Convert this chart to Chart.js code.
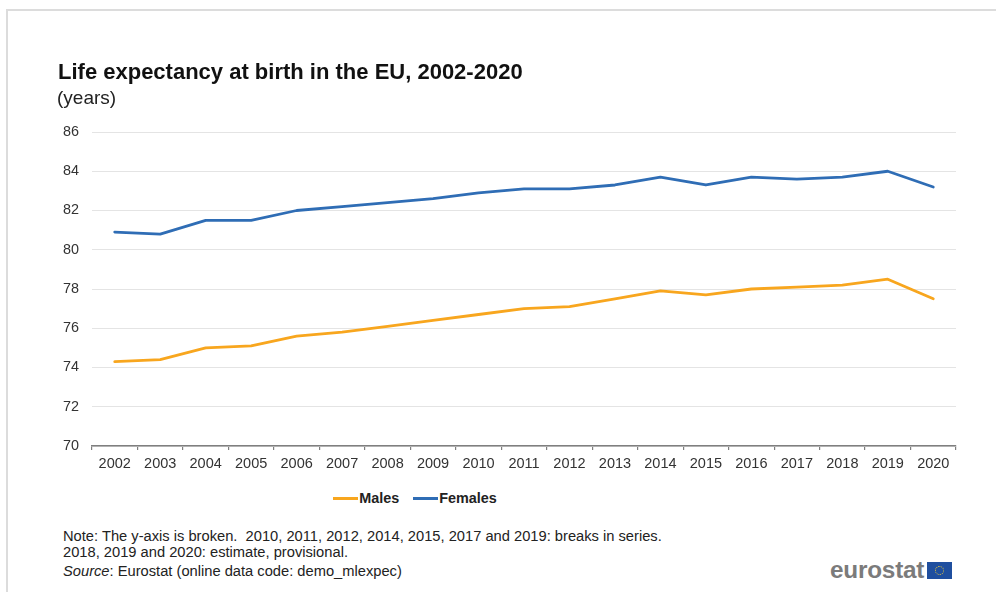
<!DOCTYPE html>
<html lang="en">
<head>
<meta charset="utf-8">
<title>Life expectancy at birth in the EU, 2002-2020</title>
<script src="https://cdn.jsdelivr.net/npm/chart.js@4.4.1/dist/chart.umd.min.js"></script>
<style>
    html, body {
        margin: 0;
        padding: 0;
        background: #ffffff;
    }
    body {
        width: 996px;
        height: 592px;
        position: relative;
        overflow: hidden;
        font-family: "Liberation Sans", Arial, sans-serif;
        color: #1a1a1a;
    }
    .frame {
        position: absolute;
        left: 6px;
        top: 9px;
        width: 1100px;
        height: 700px;
        border-top: 2px solid #dcdcdc;
        border-left: 2px solid #dcdcdc;
    }
    #lifeChart {
        position: absolute;
        left: 0;
        top: 0;
    }
    .title {
        position: absolute;
        left: 58px;
        top: 61px;
        font-size: 22px;
        line-height: 22px;
        font-weight: bold;
        color: #111;
        white-space: nowrap;
    }
    .subtitle {
        position: absolute;
        left: 57px;
        top: 88px;
        font-size: 19px;
        line-height: 19px;
        color: #222;
    }
    #legend {
        position: absolute;
        left: 0;
        width: 830px;
        top: 489px;
        display: flex;
        justify-content: center;
        font-size: 14.4px;
        font-weight: bold;
        color: #222;
    }
    #legend .item {
        display: flex;
        align-items: center;
        margin: 0 7px;
        line-height: 18px;
    }
    #legend .swatch {
        width: 25px;
        height: 3px;
        margin-right: 1px;
    }
    .notes {
        position: absolute;
        left: 63px;
        top: 528px;
        font-size: 14.7px;
        line-height: 16px;
        color: #222;
        white-space: nowrap;
    }
    .source {
        position: absolute;
        left: 63px;
        top: 563px;
        font-size: 14.7px;
        line-height: 16px;
        color: #222;
        white-space: nowrap;
    }
    .logo {
        position: absolute;
        left: 830px;
        top: 558px;
        display: flex;
        align-items: center;
    }
    .logo span {
        font-size: 24.3px;
        font-weight: bold;
        color: #7b7b7b;
        line-height: 24px;
        letter-spacing: -0.2px;
    }
    .flag {
        width: 25px;
        height: 17px;
        margin-left: 3px;
        background: #1f4f9f;
        position: relative;
    }
    .flag::after {
        content: "";
        position: absolute;
        left: 8px;
        top: 4px;
        width: 7px;
        height: 7px;
        border: 1px dotted #e8c93a;
        border-radius: 50%;
    }
</style>
</head>
<body>
<div class="frame"></div>
<canvas id="lifeChart" width="996" height="480"></canvas>
<div class="title">Life expectancy at birth in the EU, 2002-2020</div>
<div class="subtitle">(years)</div>
<div id="legend"></div>
<div class="notes">Note: The y-axis is broken.&nbsp; 2010, 2011, 2012, 2014, 2015, 2017 and 2019: breaks in series.<br>2018, 2019 and 2020: estimate, provisional.</div>
<div class="source"><i>Source</i>: Eurostat (online data code: demo_mlexpec)</div>
<div class="logo"><span>eurostat</span><div class="flag"></div></div>

<script>
// Years on the x axis
const years = ["2002", "2003", "2004", "2005", "2006", "2007", "2008", "2009", "2010", "2011",
               "2012", "2013", "2014", "2015", "2016", "2017", "2018", "2019", "2020"];

// Life expectancy at birth (years)
const males = [74.3, 74.4, 75.0, 75.1, 75.6, 75.8, 76.1, 76.4, 76.7, 77.0,
               77.1, 77.5, 77.9, 77.7, 78.0, 78.1, 78.2, 78.5, 77.5];
const females = [80.9, 80.8, 81.5, 81.5, 82.0, 82.2, 82.4, 82.6, 82.9, 83.1,
                 83.1, 83.3, 83.7, 83.3, 83.7, 83.6, 83.7, 84.0, 83.2];

// y axis: 70 to 86, every 2 years
const yMin = 70;
const yMax = 86;
const yStep = 2;

const FONT = "'Liberation Sans', Arial, sans-serif";
const ORANGE = "#f8a61e";
const BLUE = "#2f6db5";

let lifeChart;

// Legend built in HTML from the chart's own legend items
const htmlLegend = {
    id: "htmlLegend",
    afterUpdate(chart) {
        const box = document.getElementById("legend");
        box.innerHTML = "";
        const items = chart.options.plugins.legend.labels.generateLabels(chart);
        items.forEach((item) => {
            const el = document.createElement("div");
            el.className = "item";
            const swatch = document.createElement("div");
            swatch.className = "swatch";
            swatch.style.background = item.strokeStyle;
            const text = document.createElement("span");
            text.textContent = item.text;
            el.appendChild(swatch);
            el.appendChild(text);
            box.appendChild(el);
        });
    }
};

function createChart() {
    const ctx = document.getElementById("lifeChart").getContext("2d");
    lifeChart = new Chart(ctx, {
        type: "line",
        data: {
            labels: years,
            datasets: [
                { label: "Males", data: males, borderColor: ORANGE, backgroundColor: ORANGE },
                { label: "Females", data: females, borderColor: BLUE, backgroundColor: BLUE }
            ]
        },
        options: {
            responsive: false,
            animation: false,
            devicePixelRatio: 1,
            layout: { padding: { left: 50, right: 40, top: 132, bottom: 4 } },
            elements: {
                line: { borderWidth: 2.8, tension: 0, borderCapStyle: "round", borderJoinStyle: "round" },
                point: { radius: 0, hoverRadius: 0 }
            },
            plugins: {
                legend: { display: false },
                tooltip: { enabled: false }
            },
            scales: {
                x: {
                    offset: true,
                    afterFit: (scale) => { scale.height = 30; },
                    grid: {
                        offset: true,
                        drawOnChartArea: false,
                        drawTicks: true,
                        tickLength: 4,
                        color: "#7f7f7f",
                        lineWidth: 1.2
                    },
                    border: { display: true, color: "#7f7f7f", width: 1.6 },
                    ticks: {
                        padding: 5,
                        color: "#333",
                        font: { family: FONT, size: 14.5 },
                        maxRotation: 0,
                        autoSkip: false
                    }
                },
                y: {
                    min: yMin,
                    max: yMax,
                    afterFit: (scale) => { scale.width = 42; },
                    grid: { color: "#e4e4e4", lineWidth: 1, drawTicks: false },
                    border: { display: false },
                    ticks: {
                        stepSize: yStep,
                        padding: 13,
                        color: "#333",
                        font: { family: FONT, size: 14.4 }
                    }
                }
            }
        },
        plugins: [htmlLegend]
    });
}

document.addEventListener("DOMContentLoaded", () => {
    createChart();
});
</script>
</body>
</html>
